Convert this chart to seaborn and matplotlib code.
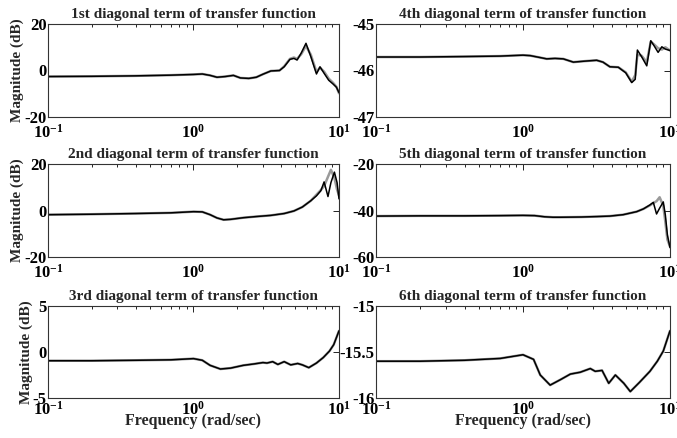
import numpy as np
import pandas as pd
import matplotlib
matplotlib.use("Agg")
import matplotlib.pyplot as plt
import seaborn as sns
from matplotlib.ticker import LogLocator, NullFormatter

sns.set_style("white")
plt.rcParams["font.family"] = ["Liberation Serif", "DejaVu Serif"]
plt.rcParams["font.weight"] = "bold"
plt.rcParams["mathtext.fontset"] = "custom"
plt.rcParams["mathtext.rm"] = "Liberation Serif:bold"
plt.rcParams["mathtext.bf"] = "Liberation Serif:bold"
plt.rcParams["mathtext.default"] = "bf"

# %% values (frequency in rad/sec, magnitude in dB)

titles = ["1st diagonal term of transfer function",
          "2nd diagonal term of transfer function",
          "3rd diagonal term of transfer function",
          "4th diagonal term of transfer function",
          "5th diagonal term of transfer function",
          "6th diagonal term of transfer function"]

f1 = [0.1, 0.2, 0.4, 0.7, 1.0, 1.15, 1.3, 1.45, 1.65, 1.88, 2.1, 2.4, 2.7, 3.0, 3.4,
      3.9, 4.2, 4.6, 4.9, 5.15, 5.5, 5.93, 6.4, 7.0, 7.4, 7.9, 8.5, 9.1, 9.6, 10]
m1_black = [-2.6, -2.5, -2.3, -2.0, -1.7, -1.5, -2.1, -2.9, -2.6, -2.1, -3.2, -3.4, -2.9,
            -1.6, -0.2, 0.0, 1.6, 4.8, 5.2, 4.5, 7.5, 11.7, 6.0, -1.5, 1.6, -1.2, -4.2,
            -5.8, -7.2, -9.5]
m1_gray = [-2.6, -2.5, -2.3, -2.0, -1.7, -1.5, -2.1, -2.9, -2.6, -2.1, -3.2, -3.4, -2.9,
           -1.6, -0.2, 0.0, 1.8, 5.0, 5.6, 5.0, 7.0, 10.6, 6.8, -0.6, 1.2, -0.5, -3.5,
           -5.3, -7.0, -9.8]

f2 = [0.1, 0.2, 0.4, 0.7, 1.0, 1.15, 1.3, 1.45, 1.61, 1.8, 2.2, 2.7, 3.4, 4.2, 4.9,
      5.6, 6.4, 7.0, 7.5, 7.9, 8.4, 8.8, 9.3, 9.7, 10]
m2_black = [-1.8, -1.6, -1.3, -1.0, -0.5, -0.6, -1.8, -3.2, -4.0, -3.8, -3.1, -2.6, -2.1,
            -1.3, -0.2, 1.5, 4.2, 6.3, 8.5, 12.3, 6.0, 12.0, 16.5, 12.0, 5.0]
m2_gray = [-1.8, -1.6, -1.3, -1.0, -0.5, -0.6, -1.8, -3.2, -4.0, -3.8, -3.1, -2.6, -2.1,
           -1.3, -0.2, 1.5, 4.2, 6.8, 8.8, 10.5, 14.5, 17.5, 14.0, 9.0, 6.5]

f3 = [0.1, 0.2, 0.4, 0.7, 1.0, 1.15, 1.3, 1.53, 1.8, 2.2, 2.6, 3.0, 3.2, 3.5, 3.8, 4.2,
      4.66, 5.2, 5.6, 6.2, 7.0, 7.8, 8.6, 9.2, 10]
m3_black = [-0.95, -0.95, -0.9, -0.85, -0.72, -0.9, -1.45, -1.85, -1.75, -1.45, -1.3,
            -1.15, -1.2, -1.05, -1.35, -1.05, -1.4, -1.25, -1.4, -1.7, -1.2, -0.6, 0.1,
            0.8, 2.3]
m3_gray = m3_black

f4 = [0.1, 0.2, 0.4, 0.7, 1.0, 1.12, 1.3, 1.45, 1.65, 1.88, 2.2, 2.6, 3.17, 3.5, 3.9,
      4.45, 5.0, 5.49, 5.8, 6.0, 6.4, 6.95, 7.4, 7.8, 8.3, 8.8, 9.3, 10]
m4_black = [-45.71, -45.71, -45.70, -45.69, -45.67, -45.68, -45.72, -45.75, -45.74,
            -45.75, -45.82, -45.80, -45.78, -45.82, -45.92, -45.93, -46.05, -46.26,
            -46.19, -45.56, -45.70, -45.90, -45.36, -45.47, -45.61, -45.49, -45.54,
            -45.57]
m4_gray = [-45.71, -45.71, -45.70, -45.69, -45.67, -45.68, -45.72, -45.75, -45.74,
           -45.75, -45.82, -45.80, -45.78, -45.82, -45.92, -45.93, -46.04, -46.24,
           -46.10, -45.66, -45.68, -45.82, -45.38, -45.44, -45.52, -45.55, -45.50,
           -45.57]

f5 = [0.1, 0.2, 0.4, 0.7, 1.0, 1.2, 1.4, 1.6, 1.8, 2.5, 3.2, 3.9, 4.8, 5.93, 6.6, 7.3,
      7.7, 8.1, 8.5, 9.0, 9.3, 9.6, 10]
m5_black = [-42.4, -42.3, -42.3, -42.2, -42.1, -42.2, -42.7, -42.9, -42.9, -42.8, -42.6,
            -42.4, -41.8, -40.5, -39.3, -37.6, -36.5, -41.5, -39.0, -36.3, -42.0, -50.5,
            -56.0]
m5_gray = [-42.4, -42.3, -42.3, -42.2, -42.1, -42.2, -42.7, -42.9, -42.9, -42.8, -42.6,
           -42.4, -41.8, -40.5, -39.3, -37.8, -36.8, -36.0, -34.3, -38.0, -45.0, -52.5,
           -55.5]

f6 = [0.1, 0.2, 0.4, 0.7, 1.0, 1.18, 1.31, 1.53, 1.8, 2.1, 2.45, 2.87, 3.1, 3.45, 3.83,
      4.25, 4.85, 5.37, 6.2, 7.3, 8.2, 9.0, 10]
m6_black = [-15.6, -15.6, -15.59, -15.57, -15.53, -15.58, -15.75, -15.86, -15.8, -15.74,
            -15.72, -15.68, -15.71, -15.70, -15.84, -15.75, -15.84, -15.93, -15.83,
            -15.71, -15.6, -15.49, -15.27]
m6_gray = m6_black

y_ticks = [[-20, 0, 20], [-20, 0, 20], [-5, 0, 5],
           [-47, -46, -45], [-60, -40, -20], [-16, -15.5, -15]]
y_ticklabels = [["-20", "0", "20"], ["-20", "0", "20"], ["-5", "0", "5"],
                ["-47", "-46", "-45"], ["-60", "-40", "-20"], ["-16", "-15.5", "-15"]]

panels = [(f1, m1_black, m1_gray), (f2, m2_black, m2_gray), (f3, m3_black, m3_gray),
          (f4, m4_black, m4_gray), (f5, m5_black, m5_gray), (f6, m6_black, m6_gray)]

# %% layout, axes rectangles in figure fraction
W, H = 677, 438
col_x = [(48, 339), (376, 670)]
row_y = [(24, 117), (164, 257), (306, 398)]

fig = plt.figure(figsize=(W / 100, H / 100), dpi=100)

for i, (freq, black, gray) in enumerate(panels):
    col, row = divmod(i, 3)
    x0, x1 = col_x[col]
    y0, y1 = row_y[row]
    ax = fig.add_axes([x0 / W, 1 - y1 / H, (x1 - x0) / W, (y1 - y0) / H])

    df = pd.DataFrame({"freq": freq, "gray": gray, "black": black})
    sns.lineplot(data=df, x="freq", y="gray", color="#9a9a9a", lw=1.8, ax=ax)
    sns.lineplot(data=df, x="freq", y="black", color="black", lw=1.1, ax=ax)

    ax.set_xscale("log")
    ax.set_xlim(0.1, 10)
    ax.set_xticks([0.1, 1, 10])
    ax.set_xticklabels([r"$10^{-1}$", r"$10^{0}$", r"$10^{1}$"], fontsize=12)
    ax.xaxis.set_minor_locator(LogLocator(base=10, subs=np.arange(2, 10)))
    ax.xaxis.set_minor_formatter(NullFormatter())

    ax.set_ylim(y_ticks[i][0], y_ticks[i][-1])
    ax.set_yticks(y_ticks[i])
    ax.set_yticklabels(y_ticklabels[i], fontsize=12, fontweight="bold")

    ax.tick_params(which="both", direction="in", top=True, right=True,
                   width=0.6, colors="black")
    ax.tick_params(axis="y", pad=1)
    ax.tick_params(axis="x", pad=2 if row == 2 else 5)
    ax.tick_params(which="major", length=4)
    ax.tick_params(which="minor", length=2.5)
    for sp in ax.spines.values():
        sp.set_color("#333333")
        sp.set_linewidth(0.8)

    ax.set_title(titles[i], fontsize=11, fontweight="bold", pad=4)
    ax.set_xlabel("Frequency (rad/sec)" if row == 2 else "",
                  fontsize=11.5, fontweight="bold", labelpad=-4)
    ax.set_ylabel("Magnitude (dB)" if col == 0 else "",
                  fontsize=11, fontweight="bold", labelpad=0)

fig.savefig("out.png", dpi=100)
